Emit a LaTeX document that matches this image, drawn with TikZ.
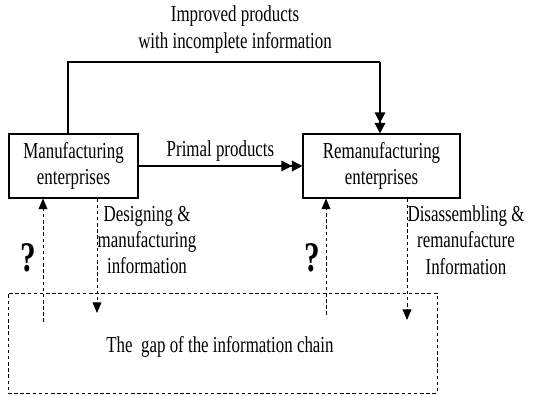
\documentclass[tikz,border=0pt]{standalone}
\usepackage{fontspec}
\setmainfont{Liberation Serif}[FakeStretch=0.74]
\usepackage{tikz}
\usetikzlibrary{arrows.meta, positioning}

\begin{document}
\begin{tikzpicture}[font=\fontsize{13}{15}\selectfont,
  enterprise/.style={shape=rectangle, draw=black, line width=0.6pt, align=center, minimum height=1.28cm, inner sep=2pt},
  flow/.style={draw=black, line width=0.8pt},
  infoline/.style={draw=black, line width=0.5pt, dash pattern=on 2pt off 1.5pt},
  question/.style={inner sep=0pt, font=\fontsize{24}{24}\selectfont\bfseries},
  label/.style={align=center, inner sep=1pt}
]
\useasboundingbox (0,0) rectangle (11,7.92);

%------------- Enterprises
	\node[enterprise, minimum width=2.58cm] (Manu) at (1.47, 4.6) {Manufacturing\\enterprises};
	\node[enterprise, minimum width=3.14cm] (Reman) at (7.63, 4.6) {Remanufacturing\\enterprises};

%------------- Product flows
	\coordinate (Top_L) at (1.36, 6.68);
	\coordinate (Top_R) at (7.6, 6.68);
	\node[label] (Improved) at (4.7, 7.33) {Improved products\\with incomplete information};

	\draw[flow] (Top_L |- Manu.north) -- (Top_L) -- (Top_R);
	\draw[flow, -{Triangle[length=6pt, width=6pt]Triangle[length=6pt, width=6pt]}] (Top_R) -- (Top_R |- Reman.north);
	\path[flow, -{Triangle[length=6pt, width=6pt]Triangle[length=6pt, width=6pt]}] (Manu) -- node[label, above=1pt] (Primal) {Primal products} (Reman);

%------------- Information chain
	\node[shape=rectangle, infoline, minimum width=8.58cm, minimum height=2cm] (Gap) at (4.45, 1.06) {};
	\node[label] (Gap_Text) at (4.4, 0.98) {The\ \ gap of the information chain};

	\coordinate (Manu_Up) at (0.86, 1.48);
	\coordinate (Manu_Down) at (1.94, 1.66);
	\coordinate (Reman_Up) at (6.52, 1.62);
	\coordinate (Reman_Down) at (8.14, 1.52);

	\draw[infoline, -{Triangle[length=6pt, width=5pt]}] (Manu_Up) -- (Manu_Up |- Manu.south);
	\draw[infoline, -{Triangle[length=6pt, width=5pt]}] (Manu_Down |- Manu.south) -- (Manu_Down);
	\draw[infoline, -{Triangle[length=6pt, width=5pt]}] (Reman_Up) -- (Reman_Up |- Reman.south);
	\draw[infoline, -{Triangle[length=6pt, width=5pt]}] (Reman_Down |- Reman.south) -- (Reman_Down);

	\node[question] (Q_Manu) at (0.56, 2.76) {?};
	\node[question] (Q_Reman) at (6.24, 2.76) {?};

	\node[label] (Design_Info) at (2.94, 3.12) {Designing \&\\manufacturing\\information};
	\node[label] (Disassem_Info) at (9.32, 3.12) {Disassembling \&\\remanufacture\\Information};

\end{tikzpicture}
\end{document}
